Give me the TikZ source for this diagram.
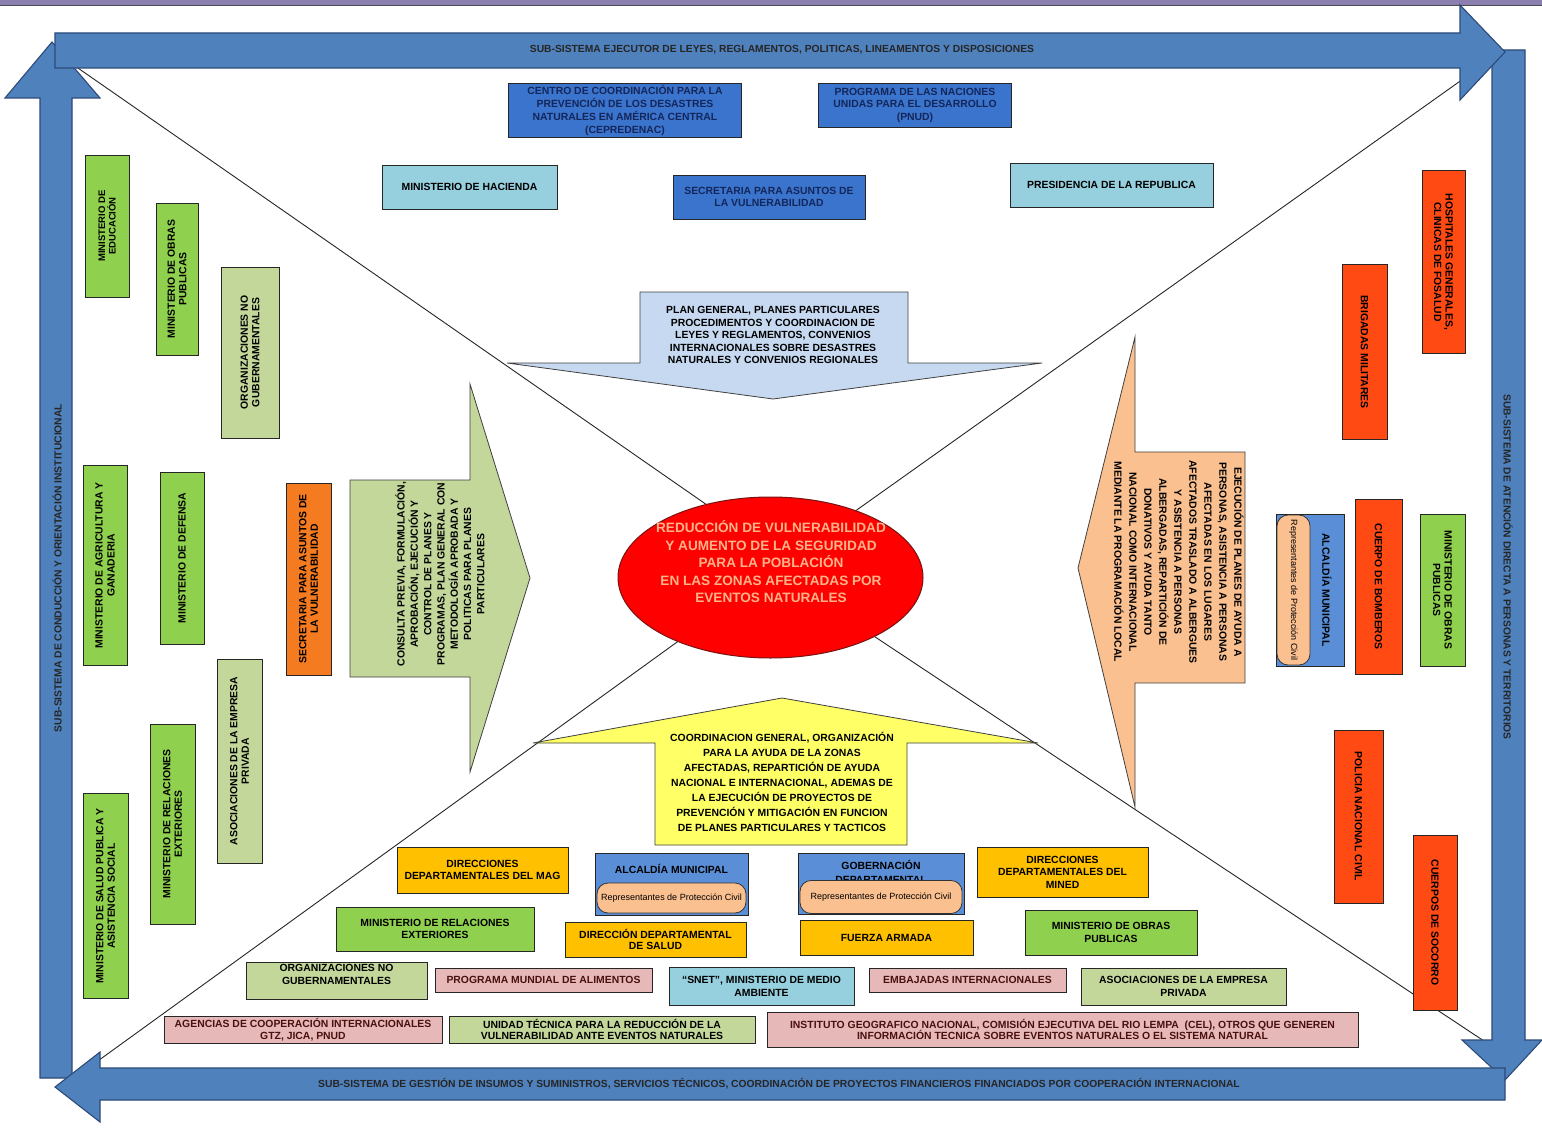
\documentclass[tikz,border=0pt]{standalone}
\usepackage{fontspec}
\setmainfont{Liberation Sans}
\usetikzlibrary{shapes.geometric}
\definecolor{arrowblue}{HTML}{4F81BD}
\definecolor{arrowedge}{HTML}{2C4A78}
\definecolor{dblue}{HTML}{3A74CC}
\definecolor{navy}{HTML}{14265A}
\definecolor{lblue}{HTML}{96CFDE}
\definecolor{mgreen}{HTML}{8FD04E}
\definecolor{olive}{HTML}{C4D79B}
\definecolor{sorange}{HTML}{F47B20}
\definecolor{rorange}{HTML}{FF4A14}
\definecolor{gold}{HTML}{FFC000}
\definecolor{pinkb}{HTML}{E6B9B8}
\definecolor{maroon}{HTML}{4A1010}
\definecolor{alcblue}{HTML}{5A8ED6}
\definecolor{peach}{HTML}{FAC090}
\definecolor{yel}{HTML}{FFFF66}
\definecolor{skyarrow}{HTML}{C6D9F1}
\definecolor{topstrip}{HTML}{8A7FAE}
\definecolor{coretext}{HTML}{FFB38A}
\begin{document}
\begin{tikzpicture}[x=1pt,y=-1pt,
  bx/.style={draw=black!85, line width=0.9pt, font=\bfseries\fontsize{10.4}{11.5}\selectfont, align=center, inner sep=0pt, outer sep=0pt},
  lbl/.style={font=\bfseries\fontsize{10.4}{11.5}\selectfont, align=center, inner sep=0pt},
  pill/.style={draw=black!80, line width=0.8pt, fill=peach, rounded corners=11pt, font=\fontsize{9}{10}\selectfont, inner sep=0pt, outer sep=0pt},
  band/.style={font=\bfseries\fontsize{10.3}{11}\selectfont, text=black!85, inner sep=0pt},
  bigarrow/.style={fill=arrowblue, draw=arrowedge, line width=1.1pt, line join=miter},
  innerarrow/.style={draw=black!75, line width=0.8pt},
  diag/.style={draw=black!85, line width=0.9pt}]
\useasboundingbox (0,0) rectangle (1542,1129);
\fill[white] (0,0) rectangle (1542,1129);

% top strip
\draw[fill=topstrip, draw=black!70, line width=0.8pt] (-2,-2) rectangle (1544,5);

% diagonal lines
\coordinate (tlc) at (75,66);
\coordinate (trc) at (1487,62);
\coordinate (blc) at (95,1063);
\coordinate (brc) at (1490,1045);
\coordinate (tli) at (720,514);
\coordinate (tri) at (830,529);
\coordinate (bli) at (720,611);
\coordinate (bri) at (830,607);
\draw[diag] (tlc) -- (tli);
\draw[diag] (trc) -- (tri);
\draw[diag] (blc) -- (bli);
\draw[diag] (brc) -- (bri);

% big blue frame arrows
\draw[bigarrow] (40,1078) -- (40,98) -- (5,98) -- (52,42) -- (100,98) -- (72,98) -- (72,1078) -- cycle;
\draw[bigarrow] (1492,50) -- (1525,50) -- (1525,1040) -- (1542,1040) -- (1505,1080) -- (1462,1040) -- (1492,1040) -- cycle;
\draw[bigarrow] (55,33) -- (1460,33) -- (1460,5) -- (1505,52) -- (1460,100) -- (1460,68) -- (55,68) -- cycle;
\draw[bigarrow] (1505,1068) -- (100,1068) -- (100,1052) -- (55,1087) -- (100,1122) -- (100,1100) -- (1505,1100) -- cycle;

\node[band] (bandtop) at (782,50) {SUB-SISTEMA EJECUTOR DE LEYES, REGLAMENTOS, POLITICAS, LINEAMENTOS Y DISPOSICIONES};
\node[band, rotate=90] (bandleft) at (57,568) {SUB-SISTEMA DE CONDUCCIÓN Y ORIENTACIÓN INSTITUCIONAL};
\node[band, rotate=-90] (bandright) at (1508,567) {SUB-SISTEMA DE ATENCIÓN DIRECTA A PERSONAS Y TERRITORIOS};
\node[band] (bandbottom) at (779,1084) {SUB-SISTEMA DE GESTIÓN DE INSUMOS Y SUMINISTROS, SERVICIOS TÉCNICOS, COORDINACIÓN DE PROYECTOS FINANCIEROS FINANCIADOS POR COOPERACIÓN INTERNACIONAL};

% inner arrows
\draw[innerarrow, fill=skyarrow] (640,292) -- (908,292) -- (908,363) -- (1042,363) -- (773,399) -- (507,363) -- (640,363) -- cycle;
\node[lbl, font=\bfseries\fontsize{10.4}{12.5}\selectfont] (skytext) at (773,335) {PLAN GENERAL, PLANES PARTICULARES\\PROCEDIMENTOS Y COORDINACION DE\\LEYES Y REGLAMENTOS, CONVENIOS\\INTERNACIONALES SOBRE DESASTRES\\NATURALES Y CONVENIOS REGIONALES};

\draw[innerarrow, fill=yel] (655,845) -- (655,743) -- (533,743) -- (782,698) -- (1038,743) -- (907,743) -- (907,845) -- cycle;
\node[lbl, font=\bfseries\fontsize{10.4}{15}\selectfont] (yeltext) at (782,782) {COORDINACION GENERAL, ORGANIZACIÓN\\PARA LA AYUDA DE LA ZONAS\\AFECTADAS, REPARTICIÓN DE AYUDA\\NACIONAL E INTERNACIONAL, ADEMAS DE\\LA EJECUCIÓN DE PROYECTOS DE\\PREVENCIÓN Y MITIGACIÓN EN FUNCION\\DE PLANES PARTICULARES Y TACTICOS};

\draw[innerarrow, fill=olive] (350,480) -- (470,480) -- (470,384) -- (530,578) -- (470,772) -- (470,677) -- (350,677) -- cycle;
\node[lbl, rotate=90, font=\bfseries\fontsize{10.4}{13.3}\selectfont] (greentext) at (440,574) {CONSULTA PREVIA, FORMULACIÓN,\\APROBACIÓN, EJECUCIÓN Y\\CONTROL DE PLANES Y\\PROGRAMAS, PLAN GENERAL CON\\METODOLOGÍA APROBADA Y\\POLITICAS PARA PLANES\\PARTICULARES};

\draw[innerarrow, fill=peach] (1245,452) -- (1135,452) -- (1135,337) -- (1078,568) -- (1135,807) -- (1135,683) -- (1245,683) -- cycle;
\node[lbl, rotate=-90, font=\bfseries\fontsize{10.4}{15}\selectfont] (peachtext) at (1179,562) {EJECUCIÓN DE PLANES DE AYUDA A\\PERSONAS, ASISTENCIA A PERSONAS\\AFECTADAS EN LOS LUGARES\\AFECTADOS TRASLADO A ALBERGUES\\Y ASISTENCIA A PERSONAS\\ALBERGADAS, REPARTICIÓN DE\\DONATIVOS Y AYUDA TANTO\\NACIONAL COMO INTERNACIONAL\\MEDIANTE LA PROGRAMACIÓN LOCAL};

% central ellipse
\node[ellipse, draw={rgb,255:red,120;green,20;blue,20}, line width=1pt, fill=red, minimum width=305, minimum height=161, inner sep=0pt] (core) at (770.5,577.5) {};
\node[lbl, text=coretext, font=\bfseries\fontsize{13.6}{17.5}\selectfont] (coretxt) at (771,562) {REDUCCIÓN DE VULNERABILIDAD\\Y AUMENTO DE LA SEGURIDAD\\PARA LA POBLACIÓN\\EN LAS ZONAS AFECTADAS POR\\EVENTOS NATURALES};

% top boxes
\node[bx, fill=dblue, text=navy, minimum width=233, minimum height=54, font=\bfseries\fontsize{10.4}{13}\selectfont] (cepredenac) at (625,110) {CENTRO DE COORDINACIÓN PARA LA\\PREVENCIÓN DE LOS DESASTRES\\NATURALES EN AMÉRICA CENTRAL\\(CEPREDENAC)};
\node[bx, fill=dblue, text=navy, minimum width=193, minimum height=44, font=\bfseries\fontsize{10.4}{12.5}\selectfont] (pnud) at (915,105) {PROGRAMA DE LAS NACIONES\\UNIDAS PARA EL DESARROLLO\\(PNUD)};
\node[bx, fill=lblue, minimum width=175, minimum height=44] (hacienda) at (469.5,187) {MINISTERIO DE HACIENDA};
\node[bx, fill=dblue, text=navy, minimum width=192, minimum height=44, font=\bfseries\fontsize{10.4}{12.5}\selectfont] (secvul) at (769,197) {SECRETARIA PARA ASUNTOS DE\\LA VULNERABILIDAD};
\node[bx, fill=lblue, minimum width=203, minimum height=44] (presidencia) at (1111.5,185) {PRESIDENCIA DE LA REPUBLICA};

% left column (rotated)
\node[bx, rotate=90, fill=mgreen, minimum width=142, minimum height=44, font=\bfseries\fontsize{9.5}{10.5}\selectfont] (educacion) at (107,226) {MINISTERIO DE\\EDUCACIÓN};
\node[bx, rotate=90, fill=mgreen, minimum width=152, minimum height=42] (obrasL) at (177,279) {MINISTERIO DE OBRAS\\PUBLICAS};
\node[bx, rotate=90, fill=olive, minimum width=171, minimum height=58] (ongL) at (250,352.5) {ORGANIZACIONES NO\\GUBERNAMENTALES};
\node[bx, rotate=90, fill=mgreen, minimum width=200, minimum height=44, font=\bfseries\fontsize{10.4}{12}\selectfont] (agricultura) at (105,565.5) {MINISTERIO DE AGRICULTURA Y\\GANADERIA};
\node[bx, rotate=90, fill=mgreen, minimum width=172, minimum height=44] (defensa) at (182,558) {MINISTERIO DE DEFENSA};
\node[bx, rotate=90, fill=sorange, minimum width=192, minimum height=45] (secL) at (308.5,579) {SECRETARIA PARA ASUNTOS DE\\LA VULNERABILIDAD};
\node[bx, rotate=90, fill=olive, minimum width=204, minimum height=45] (asocL) at (239.5,761) {ASOCIACIONES DE LA EMPRESA\\PRIVADA};
\node[bx, rotate=90, fill=mgreen, minimum width=200, minimum height=45] (relL) at (172.5,824) {MINISTERIO DE RELACIONES\\EXTERIORES};
\node[bx, rotate=90, fill=mgreen, minimum width=205, minimum height=45] (salud) at (105.5,896) {MINISTERIO DE SALUD PUBLICA Y\\ASISTENCIA SOCIAL};

% right column (rotated)
\node[bx, rotate=-90, fill=rorange, minimum width=183, minimum height=43] (hospitales) at (1443.5,262) {HOSPITALES GENERALES,\\CLINICAS DE FOSALUD};
\node[bx, rotate=-90, fill=rorange, minimum width=175, minimum height=45] (brigadas) at (1364.5,352) {BRIGADAS MILITARES};
\node[bx, rotate=-90, fill=alcblue, minimum width=152, minimum height=68] (alcR) at (1310,590) {};
\node[pill, rotate=-90, minimum width=150, minimum height=33] (pillR) at (1293.5,590) {Representantes de Protección Civil};
\node[lbl, rotate=-90] (alcRtext) at (1327,590) {ALCALDÍA MUNICIPAL};
\node[bx, rotate=-90, fill=rorange, minimum width=175, minimum height=47] (bomberos) at (1378.5,586.5) {CUERPO DE BOMBEROS};
\node[bx, rotate=-90, fill=mgreen, minimum width=152, minimum height=45] (obrasR) at (1442.5,590) {MINISTERIO DE OBRAS\\PUBLICAS};
\node[bx, rotate=-90, fill=rorange, minimum width=173, minimum height=49] (policia) at (1358.5,816.5) {POLICIA NACIONAL CIVIL};
\node[bx, rotate=-90, fill=rorange, minimum width=175, minimum height=44] (socorro) at (1435,922.5) {CUERPOS DE SOCORRO};

% bottom boxes
\node[bx, fill=gold, minimum width=171, minimum height=46, font=\bfseries\fontsize{10.4}{12.5}\selectfont] (mag) at (482.5,870) {DIRECCIONES\\DEPARTAMENTALES DEL MAG};
\node[bx, fill=alcblue, minimum width=153, minimum height=62] (alcB) at (671.5,884) {};
\node[lbl] (alcBtext) at (671.5,869) {ALCALDÍA MUNICIPAL};
\node[pill, minimum width=149, minimum height=30] (pillB) at (671.5,898) {Representantes de Protección Civil};
\node[bx, fill=alcblue, minimum width=166, minimum height=61] (gob) at (881,883.5) {};
\node[lbl, font=\bfseries\fontsize{10.4}{14}\selectfont] (gobtext) at (881,872) {GOBERNACIÓN\\DEPARTAMENTAL};
\node[pill, minimum width=162, minimum height=33] (pillG) at (881,897) {Representantes de Protección Civil};
\node[bx, fill=gold, minimum width=171, minimum height=50, font=\bfseries\fontsize{10.4}{12.5}\selectfont] (mined) at (1062.5,872) {DIRECCIONES\\DEPARTAMENTALES DEL\\MINED};
\node[bx, fill=mgreen, minimum width=198, minimum height=44, font=\bfseries\fontsize{10.4}{12.5}\selectfont] (relB) at (435,929) {MINISTERIO DE RELACIONES\\EXTERIORES};
\node[bx, fill=gold, minimum width=181, minimum height=35] (salB) at (655.5,939.5) {DIRECCIÓN DEPARTAMENTAL\\DE SALUD};
\node[bx, fill=gold, minimum width=173, minimum height=35] (fuerza) at (886.5,937.5) {FUERZA ARMADA};
\node[bx, fill=mgreen, minimum width=172, minimum height=45, font=\bfseries\fontsize{10.4}{12.5}\selectfont] (obrasB) at (1111,932.5) {MINISTERIO DE OBRAS\\PUBLICAS};
\node[bx, fill=olive, minimum width=181, minimum height=37] (ongB) at (336.5,980.5) {};
\node[lbl, font=\bfseries\fontsize{10.4}{13}\selectfont] (ongBtext) at (336.5,974.5) {ORGANIZACIONES NO\\GUBERNAMENTALES};
\node[bx, fill=pinkb, text=maroon, minimum width=217, minimum height=24] (pma) at (543.5,980) {PROGRAMA MUNDIAL DE ALIMENTOS};
\node[bx, fill=lblue, minimum width=185, minimum height=38, font=\bfseries\fontsize{10.4}{13}\selectfont] (snet) at (761.5,986) {“SNET”, MINISTERIO DE MEDIO\\AMBIENTE};
\node[bx, fill=pinkb, text=maroon, minimum width=197, minimum height=24] (embajadas) at (967.5,980) {EMBAJADAS INTERNACIONALES};
\node[bx, fill=olive, minimum width=205, minimum height=37, font=\bfseries\fontsize{10.4}{13}\selectfont] (asocB) at (1183.5,986.5) {ASOCIACIONES DE LA EMPRESA\\PRIVADA};
\node[bx, fill=pinkb, text=maroon, minimum width=278, minimum height=27] (agencias) at (303,1029.5) {AGENCIAS DE COOPERACIÓN INTERNACIONALES\\GTZ, JICA, PNUD};
\node[bx, fill=olive, minimum width=306, minimum height=27] (unidad) at (602,1029.5) {UNIDAD TÉCNICA PARA LA REDUCCIÓN DE LA\\VULNERABILIDAD ANTE EVENTOS NATURALES};
\node[bx, fill=pinkb, text=maroon, minimum width=591, minimum height=35] (instituto) at (1062.5,1029.5) {INSTITUTO GEOGRAFICO NACIONAL, COMISIÓN EJECUTIVA DEL RIO LEMPA\ \ (CEL), OTROS QUE GENEREN\\INFORMACIÓN TECNICA SOBRE EVENTOS NATURALES O EL SISTEMA NATURAL};
\end{tikzpicture}
\end{document}
